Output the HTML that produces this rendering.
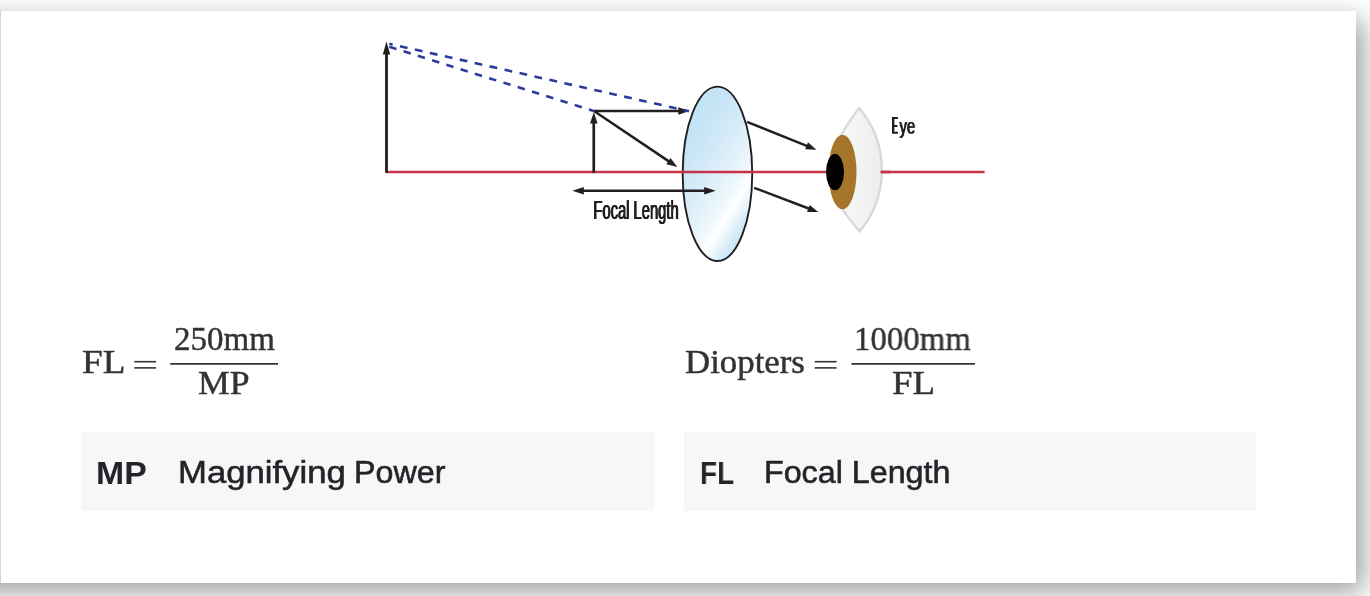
<!DOCTYPE html>
<html lang="en">
<head>
<meta charset="utf-8">
<title>Magnifier Focal Length and Diopters</title>
<style>
  html, body { margin: 0; padding: 0; }
  body {
    width: 1370px; height: 596px; overflow: hidden; position: relative;
    background: #ffffff;
    font-family: "Liberation Sans", sans-serif;
  }
  .shadow {
    position: absolute; left: -90px; top: 11px; width: 1446px; height: 572px;
    background: #d5d5d5;
    box-shadow: 7px 9px 26px rgba(0,0,0,0.39);
  }
  .card {
    position: absolute; left: 1px; top: 11px; width: 1355px; height: 572px;
    background: #ffffff;
  }
  .diagram { position: absolute; left: 0; top: 0; width: 1370px; height: 596px; }
  .box { position: absolute; top: 432px; height: 78.75px; background: #f7f7f7; }
  .box1 { left: 81px; width: 573px; }
  .box2 { left: 684px; width: 572px; }
  .t {
    position: absolute; white-space: nowrap; line-height: 1; margin: 0; padding: 0;
    transform-origin: 0 0; display: block;
    will-change: transform, opacity; opacity: 0.999;
  }
  .sans { font-family: "Liberation Sans", sans-serif; font-size: 31px; color: #212529; }
  .bold { font-weight: 700; }
  .reg { -webkit-text-stroke: 0.55px #212529; }
  .math { font-family: "Liberation Serif", serif; font-size: 33px; color: #333333; -webkit-text-stroke: 0.45px #333333; }
  .cond { font-family: "Liberation Sans", sans-serif; font-size: 25px; color: #231f20;
          text-shadow: 0.5px 0 0 #231f20, 1px 0 0 #231f20, 1.5px 0 0 #231f20; }
</style>
</head>
<body>
<div class="shadow"></div>
<div class="card"></div>

<svg class="diagram" viewBox="0 0 1370 596">
  <defs>
    <linearGradient id="lensg" gradientUnits="userSpaceOnUse" x1="680" y1="122.2" x2="781.4" y2="186.4">
      <stop offset="0" stop-color="#c2e3f6"/>
      <stop offset="0.18" stop-color="#c5e4f6"/>
      <stop offset="0.38" stop-color="#d4ebf8"/>
      <stop offset="0.55" stop-color="#e3f2fa"/>
      <stop offset="0.68" stop-color="#f1f8fd"/>
      <stop offset="0.75" stop-color="#ffffff"/>
      <stop offset="0.81" stop-color="#eff7fc"/>
      <stop offset="0.90" stop-color="#d3eaf7"/>
      <stop offset="1" stop-color="#c8e5f5"/>
    </linearGradient>
    <linearGradient id="eyeg" gradientUnits="userSpaceOnUse" x1="830" y1="0" x2="884" y2="0">
      <stop offset="0" stop-color="#f8f8f8"/>
      <stop offset="0.55" stop-color="#f2f3f3"/>
      <stop offset="1" stop-color="#ebeced"/>
    </linearGradient>
  </defs>

  <!-- lens -->
  <ellipse cx="717.45" cy="173.8" rx="34.8" ry="87.15" fill="url(#lensg)" stroke="#231f20" stroke-width="1.9"/>

  <!-- optical axis -->
  <line x1="386" y1="172" x2="984.6" y2="172" stroke="#c7344a" stroke-width="2.7"/>

  <!-- arrows -->
  <g fill="#231f20" stroke="none">
    <!-- tall image arrow -->
    <rect x="385.1" y="52" width="2.8" height="120.8"/>
    <polygon points="386.5,41.6 390.2,54.4 382.8,54.4"/>
    <!-- object arrow -->
    <rect x="592.4" y="121" width="2.7" height="51.8"/>
    <polygon points="593.8,112.2 597.6,123.6 590,123.6"/>
  </g>
  <g stroke="#231f20" stroke-width="2.5" fill="none">
    <line x1="593.6" y1="111" x2="680" y2="111"/>
    <line x1="594" y1="111" x2="670" y2="162.1"/>
    <line x1="747" y1="121.8" x2="808" y2="146.3"/>
    <line x1="754.2" y1="187.8" x2="810" y2="209"/>
    <line x1="580" y1="190.7" x2="708" y2="190.7"/>
  </g>
  <g fill="#231f20">
    <polygon points="689.5,111 678.3,107.3 678.3,114.7"/>
    <polygon points="677.4,167.1 666.3,164.3 670.5,158.1"/>
    <polygon points="816.4,149.7 805.2,149.2 808,142.3"/>
    <polygon points="818.2,212.1 807,211.9 809.7,205"/>
    <polygon points="572.3,190.7 583.8,187 583.8,194.4"/>
    <polygon points="715.7,190.7 704.2,187 704.2,194.4"/>
  </g>

  <!-- dashed virtual rays (drawn above the arrows) -->
  <g stroke="#2e3a9b" stroke-width="2.6" fill="none">
    <line x1="389.3" y1="43.8" x2="689" y2="111.2" stroke-dasharray="7.8 7.52" stroke-dashoffset="4.4"/>
    <line x1="389.3" y1="46.8" x2="593.5" y2="110.9" stroke-dasharray="7.45 7.5"/>
  </g>

  <!-- eye -->
  <path d="M859.1,107.9 A96.2,96.2 0 0 1 859.7,231.4 C843,212.3 828,190 828,172.5 C828,155 841.6,131.6 859.1,107.9 Z"
        fill="url(#eyeg)" stroke="#d8d8d8" stroke-width="2.3" stroke-linejoin="miter" stroke-miterlimit="6"/>
  <ellipse cx="842.5" cy="172" rx="14" ry="37.3" fill="#a6752c"/>
  <ellipse cx="835" cy="172.1" rx="9" ry="18.1" fill="#000000"/>
  <!-- axis re-emerging over the sclera outline -->
  <line x1="880.5" y1="172" x2="890" y2="172" stroke="#c7344a" stroke-width="2.7"/>

  <!-- narrow capital E of the "Eye" label -->
  <path d="M892,117 H897.9 V119.1 H894.4 V125 H897.4 V127 H894.4 V131.8 H898 V133.85 H892 Z" fill="#231f20"/>
  <!-- formula rules: equals signs and fraction bars -->
  <g stroke="#333333" fill="none">
    <line x1="134.3" y1="361.7" x2="156.1" y2="361.7" stroke-width="1.6"/>
    <line x1="134.3" y1="367.9" x2="156.1" y2="367.9" stroke-width="1.6"/>
    <line x1="170.2" y1="363.9" x2="278" y2="363.9" stroke-width="1.75"/>
    <line x1="814.7" y1="361.7" x2="836.6" y2="361.7" stroke-width="1.6"/>
    <line x1="814.7" y1="367.9" x2="836.6" y2="367.9" stroke-width="1.6"/>
    <line x1="851.4" y1="363.9" x2="974.9" y2="363.9" stroke-width="1.75"/>
  </g>
</svg>

<!-- diagram labels -->
<span class="t cond" id="lblFocal" style="left:592.6px; top:197.9px; transform:scaleX(0.589);">Focal Length</span>
<span class="t cond" id="lblEye" style="left:898.7px; top:116.05px; transform:scale(0.596,0.843);">ye</span>

<!-- formula 1 -->
<span class="t math" id="f1lhs" style="left:82.2px; top:346.1px; transform:scaleX(1.125);">FL</span>
<span class="t math" id="f1num" style="left:173.6px; top:322.6px; transform:scaleX(1.0);">250mm</span>
<span class="t math" id="f1den" style="left:197.9px; top:366.9px; transform:scaleX(1.08);">MP</span>

<!-- formula 2 -->
<span class="t math" id="f2lhs" style="left:685.1px; top:345.8px; transform:scaleX(1.055);">Diopters</span>
<span class="t math" id="f2num" style="left:854.2px; top:322.6px; transform:scaleX(0.995);">1000mm</span>
<span class="t math" id="f2den" style="left:892.2px; top:366.9px; transform:scaleX(1.115);">FL</span>

<!-- legend boxes -->
<div class="box box1"></div>
<div class="box box2"></div>
<span class="t sans bold" id="b1k" style="left:96px; top:457.5px; transform:scaleX(1.09);">MP</span>
<span class="t sans reg" id="b1v" style="left:177.6px; top:457.3px; transform:scaleX(1.119);">Magnifying</span>
<span class="t sans reg" id="b1w" style="left:353.8px; top:457.3px; transform:scaleX(1.04);">Power</span>
<span class="t sans bold" id="b2k" style="left:699.6px; top:457.5px; transform:scaleX(0.9);">FL</span>
<span class="t sans reg" id="b2v" style="left:764.1px; top:457.3px; transform:scaleX(1.04);">Focal Length</span>
</body>
</html>
